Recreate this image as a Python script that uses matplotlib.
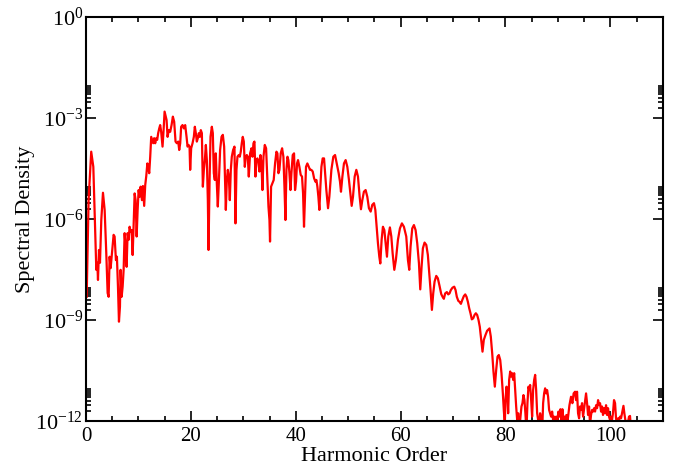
import numpy as np
import matplotlib
matplotlib.use("Agg")
from matplotlib import pyplot as plt
from matplotlib.ticker import FixedLocator, MultipleLocator, NullFormatter

plt.rcParams['font.family'] = ['Liberation Serif', 'DejaVu Serif']
plt.rcParams['mathtext.fontset'] = 'custom'
plt.rcParams['mathtext.rm'] = 'Liberation Serif'
plt.rcParams['mathtext.it'] = 'Liberation Serif:italic'

# harmonic order / log10(spectral density), in pieces
h1 = [0.13, 0.5, 1.0, 1.4, 1.78, 1.97, 2.16, 2.29, 2.48, 2.67,
      2.92, 3.24, 3.56, 3.87, 4.13, 4.32, 4.51, 4.7, 5.02, 5.27,
      5.46, 5.71, 5.9, 6.1, 6.29, 6.48, 6.6, 6.8, 6.99, 7.18,
      7.37, 7.56, 7.75, 7.94, 8.13, 8.32, 8.51, 8.7, 8.9, 9.09,
      9.28, 9.47, 9.66, 9.85, 10.04, 10.23, 10.42, 10.67, 10.86, 11.1,
      11.3, 11.5, 11.7, 11.87, 12.06, 12.25, 12.44, 12.63, 12.82, 13.0,
      13.2, 13.4, 13.58, 13.77, 13.97, 14.15, 14.34, 14.6, 14.8, 14.99]
e1 = [-8.31, -5.43, -4.0, -4.45, -6.42, -7.51, -7.3, -7.81, -6.92, -7.3,
      -6.03, -5.22, -5.73, -7.01, -8.2, -8.31, -7.12, -7.46, -6.92, -6.47,
      -6.52, -7.22, -7.12, -8.01, -9.05, -8.6, -7.51, -8.31, -8.01, -7.51,
      -6.42, -6.82, -7.42, -6.42, -6.62, -6.23, -6.38, -6.33, -7.07, -6.13,
      -5.24, -5.44, -6.52, -5.73, -5.14, -5.34, -5.04, -5.44, -5.02, -5.61,
      -4.99, -4.72, -4.35, -4.45, -4.64, -4.15, -3.56, -3.65, -3.75, -3.6,
      -3.75, -3.6, -3.65, -3.45, -3.31, -3.21, -3.41, -3.85, -3.36, -2.81]

h2 = [15.37, 15.56, 15.8, 16.06, 16.32, 16.57, 16.82, 17.08, 17.33, 17.59,
      17.78, 17.97, 18.15, 18.41, 18.67, 18.92, 19.18, 19.37, 19.56, 19.75,
      19.87, 20.06, 20.32, 20.57, 20.76, 20.95, 21.14, 21.33, 21.52, 21.71,
      21.9, 22.1, 22.29, 22.48, 22.67, 22.86, 23.05, 23.24, 23.37, 23.56,
      23.75, 24.0, 24.19, 24.38, 24.57, 24.76, 24.95, 25.14, 25.33, 25.58,
      25.85, 26.1, 26.35, 26.53, 26.67, 26.86, 27.05, 27.24, 27.43, 27.62,
      27.81, 28.06, 28.32, 28.51, 28.7, 28.89, 29.14, 29.33, 29.52, 29.71,
      29.9, 30.1, 30.29, 30.48, 30.67, 30.86, 31.05]
e2 = [-3.06, -3.56, -3.36, -3.41, -3.21, -2.96, -3.11, -3.7, -3.75, -3.7,
      -3.95, -3.75, -3.26, -3.21, -3.31, -3.21, -3.56, -3.85, -3.8, -3.85,
      -4.54, -3.9, -3.75, -3.56, -3.26, -3.45, -3.7, -3.6, -3.45, -3.56,
      -3.36, -3.45, -5.04, -4.54, -4.25, -3.8, -4.25, -5.44, -6.92, -4.94,
      -3.56, -3.26, -3.45, -4.64, -4.84, -4.05, -4.94, -5.63, -4.94, -3.95,
      -3.56, -3.5, -3.85, -4.94, -5.73, -4.84, -4.54, -4.74, -5.44, -4.54,
      -4.15, -3.95, -3.85, -6.13, -4.54, -4.15, -4.1, -4.15, -4.0, -3.75,
      -3.56, -3.7, -4.45, -4.15, -4.1, -4.15, -4.74]

h3 = [31.3, 31.56, 31.75, 31.94, 32.13, 32.32, 32.51, 32.7, 32.9, 33.08,
      33.27, 33.46, 33.65, 33.85, 34.1, 34.35, 34.6, 34.8, 34.99, 35.1,
      35.3, 35.55, 35.8, 36.06, 36.32, 36.51, 36.7, 36.89, 37.14, 37.4,
      37.65, 37.85, 38.04, 38.23, 38.42, 38.6, 38.8, 39.0, 39.18, 39.43,
      39.68, 39.87, 40.06, 40.25, 40.44, 40.7, 40.95, 41.2, 41.4, 41.58,
      41.77, 41.96, 42.22, 42.48, 42.73, 42.98, 43.24, 43.5, 43.75, 43.94,
      44.13, 44.32, 44.51, 44.7, 44.9, 45.14, 45.4]
e3 = [-4.05, -3.9, -4.15, -3.75, -3.7, -4.74, -4.25, -4.2, -4.3, -4.59,
      -4.1, -4.35, -5.14, -4.15, -3.8, -3.9, -4.84, -5.63, -6.03, -6.67,
      -5.04, -4.94, -4.84, -4.35, -4.0, -4.05, -4.64, -4.54, -4.05, -3.9,
      -4.15, -5.04, -6.03, -4.54, -4.15, -4.25, -4.64, -5.14, -4.64, -4.1,
      -4.05, -5.14, -4.89, -4.35, -4.25, -4.45, -4.69, -4.74, -5.24, -6.23,
      -5.34, -4.45, -4.35, -4.45, -4.54, -4.54, -4.59, -4.79, -4.89, -4.84,
      -5.04, -5.34, -5.73, -5.04, -4.45, -4.2, -4.2]

h4 = [45.84, 46.16, 46.41, 46.8, 47.17, 47.5, 47.81, 48.19, 48.44, 48.63,
      48.9, 49.2, 49.52, 49.84, 50.15, 50.42, 50.67, 50.92, 51.24, 51.56,
      51.87, 52.19, 52.44, 52.7, 53.0, 53.33, 53.65, 53.96, 54.29, 54.6,
      54.92, 55.18, 55.43, 55.68, 55.94, 56.13, 56.38, 56.63, 56.9, 57.14,
      57.4, 57.65, 57.96, 58.23, 58.48, 58.8, 59.1, 59.49, 59.87, 60.25,
      60.63]
e4 = [-5.14, -5.68, -5.34, -4.54, -4.15, -4.1, -4.35, -4.64, -4.89, -5.19,
      -4.74, -4.35, -4.25, -4.45, -4.84, -5.24, -5.61, -5.34, -4.74, -4.54,
      -4.74, -5.34, -5.71, -5.44, -5.19, -5.14, -5.34, -5.68, -5.78, -5.58,
      -5.53, -5.73, -6.23, -6.72, -7.12, -7.32, -6.62, -6.23, -6.33, -6.72,
      -7.12, -6.52, -6.25, -6.52, -7.02, -7.51, -7.22, -6.62, -6.28, -6.13,
      -6.23]

h5 = [61.08, 61.4, 61.65, 61.9, 62.22, 62.54, 62.86, 63.17, 63.5, 63.75,
      64.0, 64.25, 64.57, 64.9, 65.2, 65.47, 65.71, 65.97, 66.22, 66.48,
      66.8, 67.1, 67.43, 67.75, 68.0, 68.25, 68.5, 68.82, 69.08, 69.33,
      69.58, 69.9, 70.23, 70.48, 70.72, 71.0, 71.24, 71.5, 71.75, 72.06,
      72.33, 72.57, 72.83, 73.08, 73.33, 73.58, 73.85, 74.1, 74.35, 74.6,
      74.86, 75.1, 75.37, 75.62, 75.87, 76.2, 76.5]
e5 = [-6.52, -7.22, -7.51, -6.82, -6.28, -6.18, -6.33, -6.72, -7.32, -8.09,
      -7.42, -6.87, -6.7, -6.77, -7.07, -7.61, -8.11, -8.7, -8.21, -7.86,
      -7.69, -7.76, -7.99, -8.23, -8.31, -8.37, -8.21, -8.17, -8.24, -8.21,
      -8.11, -8.04, -8.01, -8.11, -8.31, -8.43, -8.46, -8.52, -8.41, -8.29,
      -8.24, -8.31, -8.46, -8.65, -8.8, -8.98, -8.95, -8.85, -8.8, -8.85,
      -9.0, -9.2, -9.59, -9.94, -9.59, -9.44, -9.32]

h6 = [76.95, 77.2, 77.47, 77.71, 77.97, 78.23, 78.48, 78.73, 79.0, 79.24,
      79.5, 79.68, 79.87, 80.0, 80.2, 80.38, 80.51, 80.7, 80.9, 81.08,
      81.27, 81.47, 81.66, 81.85, 82.04, 82.23, 82.42, 82.6, 82.86, 83.05,
      83.24, 83.43, 83.62, 83.8, 84.0, 84.19, 84.38, 84.57, 84.7, 84.9,
      85.08, 85.27, 85.47, 85.66, 85.85, 86.04, 86.23, 86.42, 86.6, 86.8,
      87.0, 87.18, 87.37, 87.56, 87.75, 87.94, 88.13, 88.32, 88.51, 88.7,
      88.9, 89.08, 89.27, 89.47, 89.66, 89.9, 90.1, 90.3, 90.48, 90.67,
      90.86, 91.05, 91.24, 91.43, 91.62, 91.87]
e6 = [-9.25, -9.49, -9.99, -10.53, -10.98, -10.48, -10.09, -10.04, -10.19, -10.58,
      -11.18, -11.67, -12.1, -11.38, -10.98, -11.28, -11.77, -10.78, -10.53, -10.68,
      -10.58, -10.78, -10.58, -11.08, -11.57, -11.97, -11.77, -12.3, -11.87, -11.57,
      -11.47, -11.23, -11.38, -11.77, -12.3, -11.47, -10.98, -11.08, -10.93, -11.38,
      -11.87, -11.08, -10.78, -10.63, -11.08, -11.77, -11.97, -12.3, -11.77, -11.97,
      -12.3, -11.47, -11.18, -11.03, -11.18, -11.08, -11.28, -11.67, -11.77, -11.87,
      -11.72, -11.97, -11.87, -12.2, -11.87, -11.97, -11.72, -11.87, -11.65, -11.97,
      -11.65, -11.97, -11.87, -11.97, -11.82, -11.97]

h7 = [92.2, 92.5, 92.76, 93.0, 93.27, 93.46, 93.65, 93.84, 94.04, 94.22,
      94.42, 94.6, 94.8, 95.0, 95.18, 95.37, 95.56, 95.75, 95.94, 96.13,
      96.32, 96.52, 96.7, 96.9, 97.08, 97.28, 97.47, 97.66, 97.85, 98.04,
      98.23, 98.42, 98.6, 98.8, 99.0, 99.18, 99.37, 99.56, 99.75, 99.94,
      100.13, 100.32, 100.5, 100.7, 100.9, 101.08, 101.27, 101.47, 101.66, 101.85,
      102.04, 102.3, 102.5, 102.67, 102.86, 103.05, 103.3, 103.56, 103.75, 103.87]
e7 = [-11.53, -11.28, -11.47, -11.18, -11.13, -11.38, -11.13, -11.77, -11.92, -11.57,
      -11.67, -11.47, -11.87, -11.62, -11.38, -11.18, -11.47, -11.82, -11.57, -12.1,
      -11.82, -11.67, -11.72, -11.62, -11.72, -11.53, -11.62, -11.38, -11.53, -11.47,
      -11.72, -11.57, -11.82, -11.62, -11.77, -11.53, -11.82, -11.62, -11.87, -11.97,
      -11.87, -11.97, -11.77, -11.38, -11.47, -11.92, -12.1, -11.92, -11.97, -11.87,
      -11.92, -11.72, -11.55, -11.77, -11.97, -12.1, -12.1, -11.87, -11.85, -12.1]

harmonic = np.array(h1 + h2 + h3 + h4 + h5 + h6 + h7)
log_density = np.array(e1 + e2 + e3 + e4 + e5 + e6 + e7)
density = 10.0 ** log_density

ytick_vals = [1e-12, 1e-9, 1e-6, 1e-3, 1e0]
ytick_labels = [r'$10^{-12}$', r'$10^{-9}$', r'$10^{-6}$', r'$10^{-3}$', r'$10^{0}$']

fig = plt.figure(figsize=(6.77, 4.68), dpi=100)
ax = fig.add_axes([0.127, 0.1004, 0.852, 0.8633])

ax.plot(harmonic, density, color='red', lw=1.6)

ax.set_yscale('log')
ax.set_xlim(0, 110)
ax.set_ylim(1e-12, 1e0)

ax.xaxis.set_major_locator(MultipleLocator(20))
ax.xaxis.set_minor_locator(MultipleLocator(5))
ax.yaxis.set_major_locator(FixedLocator(ytick_vals))
ax.set_yticklabels(ytick_labels)
minor_y = [m * 10.0 ** k for k in (-12, -9, -6, -3) for m in range(2, 10)]
ax.yaxis.set_minor_locator(FixedLocator(minor_y))
ax.yaxis.set_minor_formatter(NullFormatter())

ax.tick_params(which='both', direction='in', top=True, right=True, width=1.2)
ax.tick_params(which='major', length=7.5)
ax.tick_params(which='minor', length=3.8)
ax.tick_params(axis='y', pad=2, labelsize=16)
ax.tick_params(axis='x', pad=4.5, labelsize=15)
for s in ax.spines.values():
    s.set_linewidth(1.5)

ax.set_xlabel('Harmonic Order', fontsize=16, labelpad=0.5)
ax.set_ylabel('Spectral Density', fontsize=16, labelpad=0)

fig.savefig('out.png', dpi=100)
